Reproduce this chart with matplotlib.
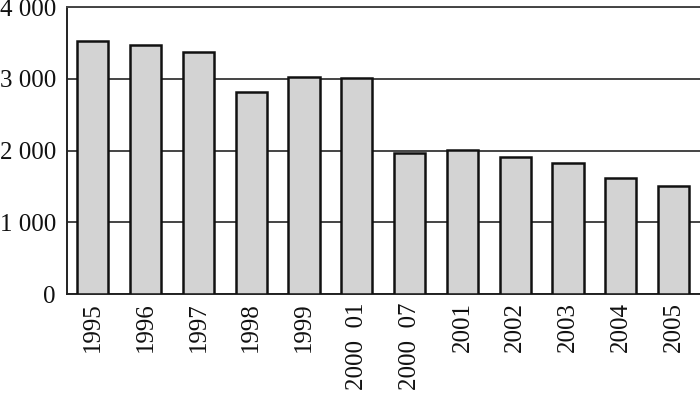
import matplotlib
matplotlib.use("Agg")
import matplotlib.pyplot as plt
from matplotlib.ticker import FuncFormatter

# Values
years = ["1995", "1996", "1997", "1998", "1999", "2000  01", "2000  07",
         "2001", "2002", "2003", "2004", "2005"]
values = [3525, 3475, 3370, 2810, 3020, 3010, 1960, 2010, 1910, 1820, 1610, 1505]
y_ticks = [0, 1000, 2000, 3000, 4000]

plt.rcParams["font.family"] = ["Liberation Serif", "DejaVu Serif"]

fig = plt.figure(figsize=(7, 3.94), dpi=100)
ax = fig.add_axes([0.0957, 0.2538, 0.9043, 0.7284])

x = range(len(years))
ax.bar(x, values, width=0.59, color="#d3d3d3", edgecolor="#111111",
       linewidth=1.8, zorder=3)

ax.set_xlim(-0.49, len(years) - 0.5)
ax.set_ylim(0, 4000)
ax.set_yticks(y_ticks)
ax.yaxis.set_major_formatter(FuncFormatter(lambda v, p: f"{int(v):,}".replace(",", " ")))
ax.set_xticks(list(x))
ax.set_xticklabels(years, rotation=90, va="top", ha="center")

ax.grid(axis="y", color="#444444", linewidth=1.4, zorder=0)
ax.tick_params(axis="both", length=0, labelsize=18, colors="#111111")
ax.tick_params(axis="y", pad=8)
ax.tick_params(axis="x", pad=6)

ax.spines["right"].set_visible(False)
ax.spines["top"].set_color("#444444")
ax.spines["top"].set_linewidth(1.4)
ax.spines["left"].set_color("#222222")
ax.spines["left"].set_linewidth(1.4)
ax.spines["bottom"].set_color("#222222")
ax.spines["bottom"].set_linewidth(1.4)

fig.savefig("out.png", dpi=100)
